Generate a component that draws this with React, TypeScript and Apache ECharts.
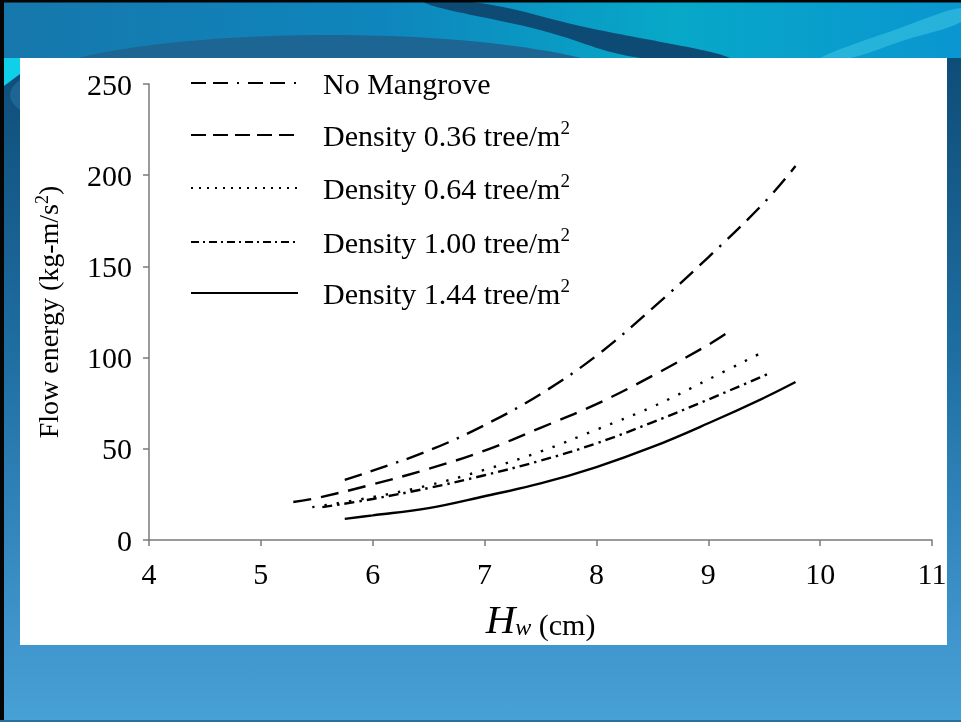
import React, { useEffect, useRef } from "react";
import * as echarts from "echarts";

// ---- Data ----
const seriesNames = [
  "No Mangrove",
  "Density 0.36 tree/m²",
  "Density 0.64 tree/m²",
  "Density 1.00 tree/m²",
  "Density 1.44 tree/m²",
];

const noMangroveX = [5.75, 6.0, 6.5, 7.0, 7.5, 8.0, 8.5, 9.0, 9.5, 9.78];
const noMangroveY = [33, 38, 49, 63, 80, 101, 127, 155, 185, 205];

const d036X = [5.29, 5.5, 6.0, 6.5, 7.0, 7.5, 8.0, 8.5, 9.0, 9.18];
const d036Y = [20.8, 23, 30.5, 39, 49, 61.5, 74.5, 90, 107, 114];

const d064X = [5.46, 6.0, 6.5, 7.0, 7.5, 8.0, 8.5, 9.0, 9.47];
const d064Y = [18, 23.5, 30, 38.5, 48.5, 60.5, 73, 88, 102.5];

const d100X = [5.55, 6.0, 6.5, 7.0, 7.5, 8.0, 8.5, 9.0, 9.55];
const d100Y = [18, 22.5, 28.5, 35.5, 43.5, 53, 64.5, 77, 91.5];

const d144X = [5.75, 6.0, 6.5, 7.0, 7.5, 8.0, 8.5, 9.0, 9.5, 9.78];
const d144Y = [11.6, 13.5, 17.5, 24, 31, 40, 51, 64, 78, 86.6];

const seriesX = [noMangroveX, d036X, d064X, d100X, d144X];
const seriesY = [noMangroveY, d036Y, d064Y, d100Y, d144Y];

const xMin = 4;
const xMax = 11;
const xStep = 1;
const yMin = 0;
const yMax = 250;
const yStep = 50;

const xAxisTitle = "{h|H}{w|w}{c| (cm)}";
const yAxisTitle = "Flow energy (kg-m/s{sup|2})";

// ---- Styles ----
const dashTypes: any[] = [
  [18, 9, 18, 9, 2.4, 9],
  [18, 10],
  [2.4, 10],
  [10, 5, 2.4, 5],
  "solid",
];
const legendDashTypes: any[] = [
  [15, 7, 15, 9, 2, 9],
  [15, 7],
  [2, 6],
  [8, 4, 2, 4],
  "solid",
];
const legendTops = [66, 118, 171, 225, 276];
const SERIF = "'Liberation Serif', 'Times New Roman', serif";

export default function App() {
  const ref = useRef<HTMLDivElement>(null);

  useEffect(() => {
    if (!ref.current) return;
    const chart = echarts.init(ref.current, null, { renderer: "svg" });

    const series = seriesNames.map((name, i) => ({
      name,
      type: "line",
      smooth: 0.4,
      symbol: "none",
      showSymbol: false,
      data: seriesX[i].map((x, j) => [x, seriesY[i][j]]),
      lineStyle: { color: "#000", width: 2.4, type: dashTypes[i], cap: "butt" },
      itemStyle: { color: "#000" },
      z: 3,
    }));

    const legends = seriesNames.map((name, i) => ({
      data: [name],
      orient: "vertical",
      left: 190,
      top: legendTops[i],
      padding: 0,
      itemWidth: 107,
      itemHeight: 14,
      selectedMode: false,
      itemStyle: { opacity: 0, borderWidth: 0 },
      lineStyle: { type: legendDashTypes[i], width: 2, color: "#000", opacity: 1 },
      formatter: (n: string) => n.replace("²", "{sup|2}"),
      textStyle: {
        fontFamily: SERIF,
        fontSize: 30,
        color: "#000",
        lineHeight: 34,
        padding: [0, 0, 0, 20],
        rich: {
          sup: {
            fontFamily: SERIF,
            fontSize: 19,
            color: "#000",
            lineHeight: 18,
            verticalAlign: "top",
          },
        },
      },
    }));

    const graphic = [
      {
        type: "rect",
        z: -20,
        shape: { x: 0, y: 0, width: 961, height: 722 },
        style: {
          fill: new echarts.graphic.LinearGradient(0, 0, 0, 1, [
            { offset: 0, color: "#0b4670" },
            { offset: 0.5, color: "#1f6fa3" },
            { offset: 0.88, color: "#3f95cc" },
            { offset: 1, color: "#47a0d6" },
          ]),
        },
      },
      {
        type: "rect",
        z: -19,
        shape: { x: 0, y: 0, width: 961, height: 58 },
        style: {
          fill: new echarts.graphic.LinearGradient(0, 0, 1, 0, [
            { offset: 0, color: "#1677ab" },
            { offset: 0.4, color: "#0e86bd" },
            { offset: 0.7, color: "#07a8c8" },
            { offset: 1, color: "#0a96d0" },
          ]),
        },
      },
      {
        type: "ellipse",
        z: -18,
        shape: { cx: 330, cy: 95, rx: 320, ry: 60 },
        style: { fill: "#1d6593" },
      },
      {
        type: "polygon",
        z: -17,
        shape: {
          points: [
            [425, 3],
            [480, 3],
            [580, 26],
            [730, 58],
            [640, 58],
            [540, 30],
          ],
          smooth: 0.4,
        },
        style: { fill: "#0d4a74" },
      },
      {
        type: "polygon",
        z: -17,
        shape: {
          points: [
            [820, 58],
            [900, 28],
            [961, 8],
            [961, 22],
            [905, 40],
            [850, 58],
          ],
          smooth: 0.3,
        },
        style: { fill: "#33bde0", opacity: 0.7 },
      },
      {
        type: "polygon",
        z: -17,
        shape: {
          points: [
            [4, 58],
            [20, 58],
            [20, 74],
            [4, 86],
          ],
        },
        style: { fill: "#10cfe8" },
      },
      {
        type: "rect",
        z: -10,
        shape: { x: 20, y: 58, width: 927, height: 587 },
        style: { fill: "#ffffff" },
      },
      {
        type: "rect",
        z: -9,
        shape: { x: 0, y: 0, width: 961, height: 2.5 },
        style: { fill: "#050505" },
      },
      {
        type: "rect",
        z: -9,
        shape: { x: 0, y: 0, width: 4, height: 722 },
        style: { fill: "#050505" },
      },
      {
        type: "rect",
        z: -9,
        shape: { x: 0, y: 720, width: 961, height: 2 },
        style: { fill: "#2a6f9c" },
      },
    ];

    chart.setOption({
      animation: false,
      backgroundColor: "transparent",
      graphic,
      legend: legends,
      grid: { left: 149, right: 29, top: 84, bottom: 182, containLabel: false },
      xAxis: {
        type: "value",
        min: xMin,
        max: xMax,
        interval: xStep,
        name: xAxisTitle,
        nameLocation: "middle",
        nameGap: 55,
        nameTextStyle: {
          color: "#000",
          rich: {
            h: {
              fontFamily: SERIF,
              fontStyle: "italic",
              fontSize: 41,
              lineHeight: 44,
              color: "#000",
              verticalAlign: "bottom",
            },
            w: {
              fontFamily: SERIF,
              fontStyle: "italic",
              fontSize: 24,
              lineHeight: 18,
              color: "#000",
              verticalAlign: "bottom",
            },
            c: {
              fontFamily: SERIF,
              fontSize: 30,
              lineHeight: 34,
              color: "#000",
              verticalAlign: "bottom",
            },
          },
        },
        axisLine: { show: true, onZero: false, lineStyle: { color: "#7a7a7a", width: 1.5 } },
        axisTick: { show: true, inside: false, length: 6, lineStyle: { color: "#7a7a7a", width: 1.5 } },
        splitLine: { show: false },
        axisLabel: { fontFamily: SERIF, fontSize: 30, color: "#000", margin: 18 },
      },
      yAxis: {
        type: "value",
        min: yMin,
        max: yMax,
        interval: yStep,
        name: yAxisTitle,
        nameLocation: "middle",
        nameGap: 86,
        nameTextStyle: {
          fontFamily: SERIF,
          fontSize: 28,
          lineHeight: 30,
          color: "#000",
          rich: {
            sup: {
              fontFamily: SERIF,
              fontSize: 18,
              lineHeight: 16,
              color: "#000",
              verticalAlign: "top",
            },
          },
        },
        axisLine: { show: true, onZero: false, lineStyle: { color: "#7a7a7a", width: 1.5 } },
        axisTick: { show: true, inside: false, length: 6, lineStyle: { color: "#7a7a7a", width: 1.5 } },
        splitLine: { show: false },
        axisLabel: { fontFamily: SERIF, fontSize: 30, color: "#000", margin: 17 },
      },
      series,
    });

    return () => chart.dispose();
  }, []);

  return (
    <div
      ref={ref}
      style={{ position: "fixed", left: 0, top: 0, width: 961, height: 722 }}
    />
  );
}
